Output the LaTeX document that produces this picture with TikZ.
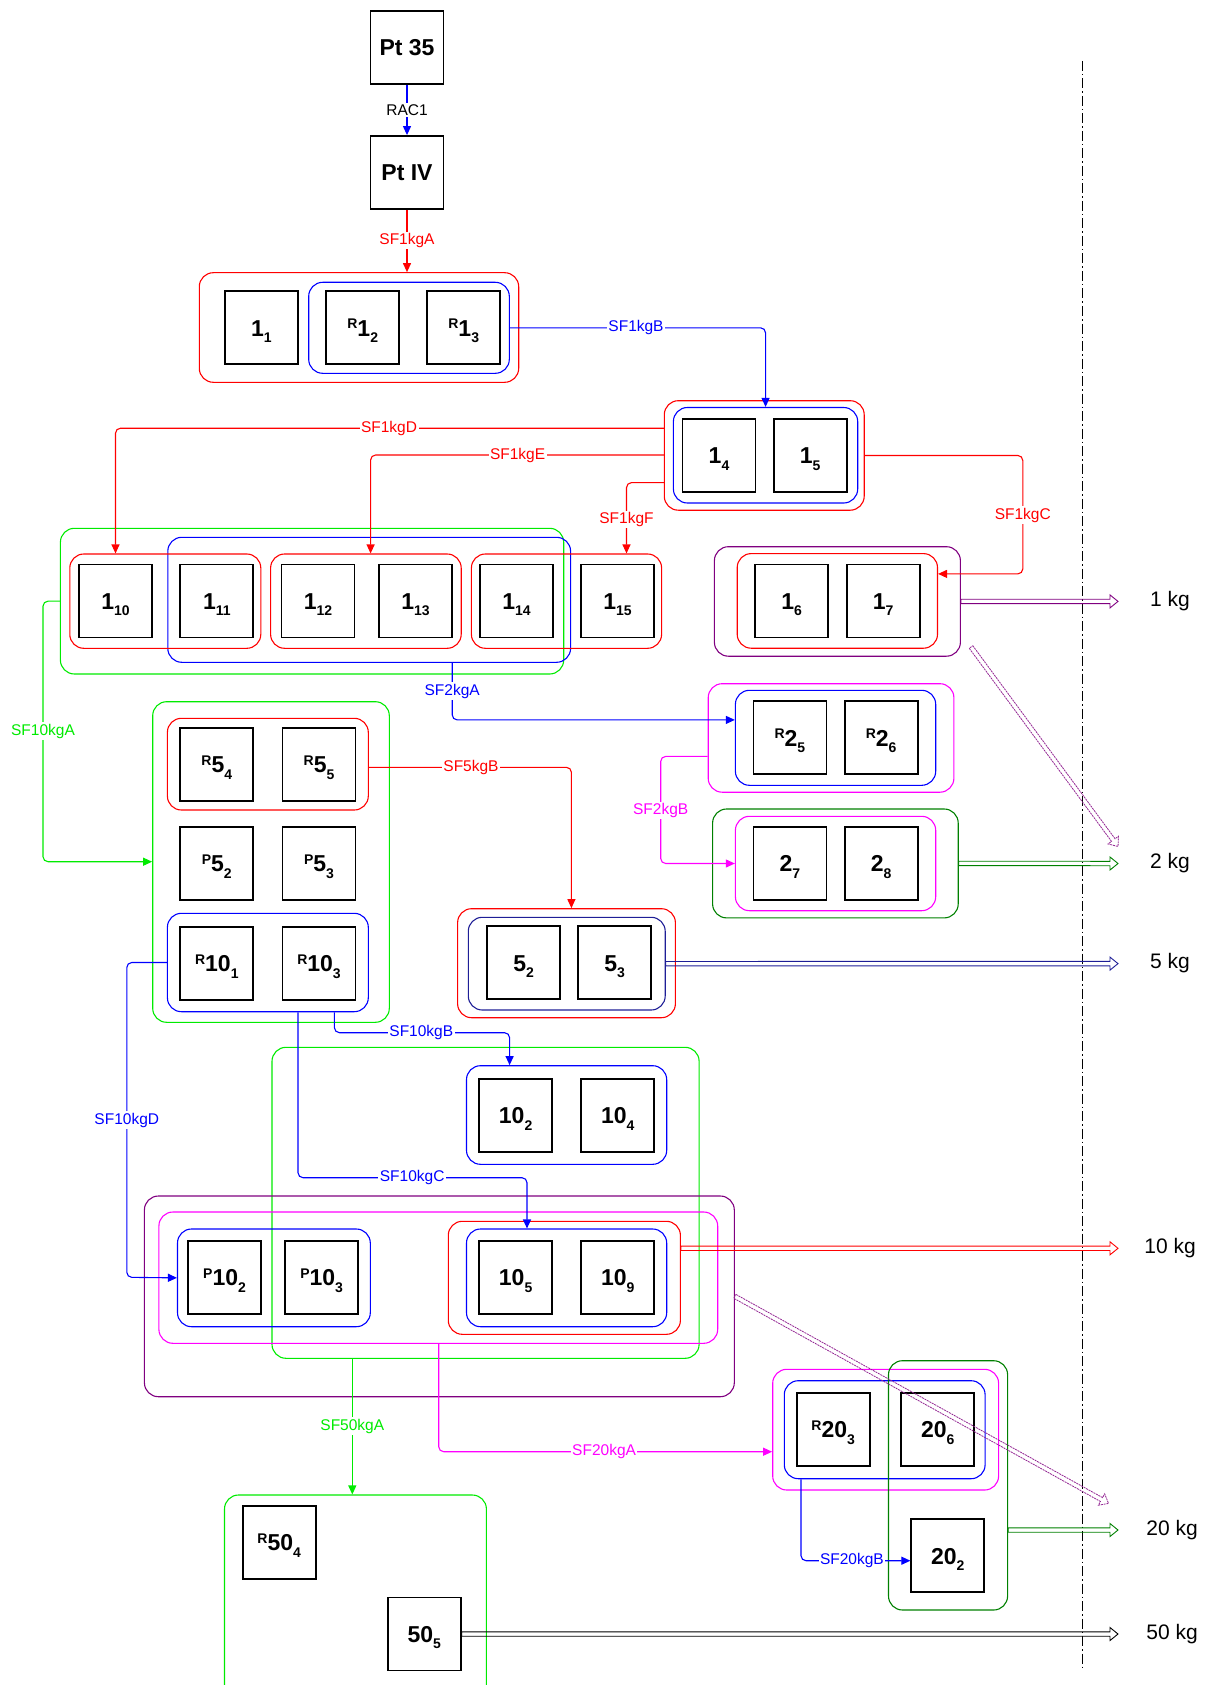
\documentclass[tikz,border=0pt]{standalone}
\usepackage{fontspec}
\setmainfont{Liberation Sans}
\usetikzlibrary{arrows.meta,calc,fit}
\definecolor{cred}{RGB}{255,0,0}
\definecolor{cblue}{RGB}{0,0,255}
\definecolor{cgreen}{RGB}{0,235,0}
\definecolor{cmag}{RGB}{255,0,255}
\definecolor{cpur}{RGB}{128,0,128}
\definecolor{cdgreen}{RGB}{0,128,0}
\definecolor{cnavy}{RGB}{30,30,150}
\newcommand\bl[3]{{\fontsize{14}{14}\selectfont\raisebox{7.5pt}{#1}}{\fontsize{23}{23}\selectfont #2}{\fontsize{14}{14}\selectfont\raisebox{-6.5pt}{#3}}}
\newcommand\bx[4]{\node[sq] (#1) at (#2,#3) {}; \node[boxlbl] at ($(#1.center)+(0,8.3)$) {#4};}
\newcommand\ctn[4]{\node[ctr=#2, fit={(#3)(#4)}] (#1) {};}
\newcommand\dbl[4][]{%
 \coordinate (dbA) at ($(#4)!8pt!(#3)$);
 \draw[#2, line width=0.9pt, line join=miter, #1]
 ($(#3)!2.2pt!90:(#4)$) --
 ($(dbA)!2.2pt!-90:(#3)$) --
 ($(dbA)!6.5pt!-90:(#3)$) --
 (#4) --
 ($(dbA)!6.5pt!90:(#3)$) --
 ($(dbA)!2.2pt!90:(#3)$) --
 ($(#3)!2.2pt!-90:(#4)$) -- cycle;}
\tikzset{
 sq/.style={draw=black, line width=1.8pt, minimum width=73pt, minimum height=73pt, inner sep=0pt},
 boxlbl/.style={anchor=base, inner sep=0pt, font=\bfseries},
 ctr/.style={draw=#1, line width=1.1pt, rounded corners=14pt, inner sep=0pt},
 lab/.style={fill=white, inner sep=1.5pt, font=\fontsize{15.5}{15.5}\selectfont},
 conn/.style={draw=#1, line width=1.1pt, rounded corners=5pt, -{Triangle[length=9pt,width=8pt]}},
 kg/.style={font=\fontsize{21}{21}\selectfont, inner sep=0pt},
 diag/.style={line width=0.8pt, dash pattern=on 2pt off 0.8pt, draw=cpur!85}
}
\begin{document}
\begin{tikzpicture}[x=1pt,y=-1pt]
\useasboundingbox (0,0) rectangle (1209,1685);
\clip (0,0) rectangle (1209,1685);
% dash-dot line
\coordinate (dtop) at (1082,61);
\coordinate (dbot) at (1082,1668);
\draw[line width=0.9pt, dash pattern=on 10pt off 3pt on 1.5pt off 3pt] (dtop) -- (dbot);
% boxes
\bx{pt35}{407}{47.5}{\fontsize{23}{23}\selectfont Pt 35}
\bx{ptiv}{407}{172.5}{\fontsize{23}{23}\selectfont Pt IV}
\bx{n11}{261.3}{327.7}{\bl{}{1}{1}}
\bx{n12}{362.7}{327.7}{\bl{R}{1}{2}}
\bx{n13}{463.7}{327.7}{\bl{R}{1}{3}}
\bx{n14}{719}{455.2}{\bl{}{1}{4}}
\bx{n15}{810.2}{455.2}{\bl{}{1}{5}}
\bx{n110}{115.5}{601}{\bl{}{1}{10}}
\bx{n111}{216.8}{601}{\bl{}{1}{11}}
\bx{n112}{318}{601}{\bl{}{1}{12}}
\bx{n113}{415.5}{601}{\bl{}{1}{13}}
\bx{n114}{516.5}{601}{\bl{}{1}{14}}
\bx{n115}{617.5}{601}{\bl{}{1}{15}}
\bx{n16}{791.7}{601}{\bl{}{1}{6}}
\bx{n17}{883.2}{601}{\bl{}{1}{7}}
\bx{n25}{789.9}{737.8}{\bl{R}{2}{5}}
\bx{n26}{881.1}{737.8}{\bl{R}{2}{6}}
\bx{n27}{789.9}{863.5}{\bl{}{2}{7}}
\bx{n28}{881.1}{863.5}{\bl{}{2}{8}}
\bx{n54}{216.8}{764.2}{\bl{R}{5}{4}}
\bx{n55}{319}{764.2}{\bl{R}{5}{5}}
\bx{p52}{216.8}{863.5}{\bl{P}{5}{2}}
\bx{p53}{319}{863.5}{\bl{P}{5}{3}}
\bx{r101}{216.8}{963.2}{\bl{R}{10}{1}}
\bx{r103}{319}{963.2}{\bl{R}{10}{3}}
\bx{n52}{523.7}{962.7}{\bl{}{5}{2}}
\bx{n53}{614.7}{962.7}{\bl{}{5}{3}}
\bx{n102}{515.6}{1115.2}{\bl{}{10}{2}}
\bx{n104}{617.8}{1115.2}{\bl{}{10}{4}}
\bx{p102}{224.6}{1277.5}{\bl{P}{10}{2}}
\bx{p103}{321.6}{1277.5}{\bl{P}{10}{3}}
\bx{n105}{515.6}{1277.5}{\bl{}{10}{5}}
\bx{n109}{617.8}{1277.5}{\bl{}{10}{9}}
\bx{r203}{833.2}{1429.3}{\bl{R}{20}{3}}
\bx{n206}{937.8}{1429.3}{\bl{}{20}{6}}
\bx{n202}{947.8}{1555.7}{\bl{}{20}{2}}
\bx{r504}{279.2}{1542.5}{\bl{R}{50}{4}}
\bx{n505}{424.3}{1634}{\bl{}{50}{5}}
% containers
\ctn{redA}{cred}{199.3,272.7}{518.7,382.3}
\ctn{blueA}{cblue}{308.7,282.3}{509.3,373.3}
\ctn{redB}{cred}{664.3,400.7}{864.2,510.2}
\ctn{blueB}{cblue}{673.4,407.5}{857.7,503}
\ctn{greenC}{cgreen}{60.4,528.3}{563.7,674}
\ctn{blueC}{cblue}{167.8,537.3}{570.6,662.3}
\ctn{redC1}{cred}{69.8,554}{260.8,648.3}
\ctn{redC2}{cred}{270.6,554}{461.2,648.3}
\ctn{redC3}{cred}{471.4,554}{661.6,648.3}
\ctn{purD}{cpur}{714.4,546.7}{960.4,656.2}
\ctn{redD}{cred}{737.2,553.6}{937.5,648.2}
\ctn{magE}{cmag}{708.2,683.7}{953.9,792.2}
\ctn{blueE}{cblue}{735.4,690.3}{935.7,785.3}
\ctn{dgF}{cdgreen}{712.6,809}{958.2,917.9}
\ctn{magF}{cmag}{735.4,816.3}{935.7,910.7}
\ctn{greenG}{cgreen}{152.7,701.7}{389.3,1022.3}
\ctn{redG1}{cred}{167.4,718.3}{368.3,810}
\ctn{blueG2}{cblue}{167.4,913.3}{368.3,1011.7}
\ctn{redH}{cred}{457.6,908.7}{675.4,1017.7}
\ctn{navyH}{cnavy}{468.3,917.3}{665.2,1010}
\ctn{blueI}{cblue}{466.5,1065.7}{666.7,1164.3}
\ctn{greenJ}{cgreen}{272,1047.3}{699.1,1358.3}
\ctn{purK}{cpur}{144.4,1196}{734.3,1396.7}
\ctn{magK}{cmag}{158.9,1212}{717.7,1343.3}
\ctn{blueK1}{cblue}{177.5,1229}{370.3,1326.7}
\ctn{redK2}{cred}{448.3,1221.3}{680.4,1334.3}
\ctn{blueK2}{cblue}{466.5,1229}{666.7,1326.7}
\ctn{magL}{cmag}{772.7,1369.3}{998.6,1490}
\ctn{blueL}{cblue}{784.3,1380.7}{985.1,1478.7}
\ctn{dgM}{cdgreen}{888.5,1360.7}{1007.6,1610}
\ctn{greenN}{cgreen}{224.5,1495}{486.4,1720}
% connectors
\draw[conn=cblue] (pt35.south) -- (ptiv.north);
\node[lab] at (407,110) {RAC1};
\draw[conn=cred] (ptiv.south) -- (ptiv.south |- redA.north);
\node[lab,text=cred] at (407,240.5) {SF1kgA};
\draw[conn=cblue] (blueA.east) -| (blueB.north);
\node[lab,text=cblue] at (636,327.7) {SF1kgB};
\draw[conn=cred] (redB.west |- 0,428.2) -| (n110.center |- redC1.north);
\node[lab,text=cred] at (389,428.2) {SF1kgD};
\draw[conn=cred] (redB.west |- 0,455) -| (redC2.north -| 370.6,0);
\node[lab,text=cred] at (517.6,455) {SF1kgE};
\draw[conn=cred] (redB.west |- 0,482.6) -| (redC3.north -| 626.5,0);
\node[lab,text=cred] at (626.5,519.3) {SF1kgF};
\coordinate (cC) at (1022.8,573.9);
\draw[conn=cred] (redB.east) -| (cC) -- (redD.east |- cC);
\node[lab,text=cred] at (1022.8,515) {SF1kgC};
\draw[conn=cblue] (blueC.south -| 452.2,0) |- (blueE.west |- 0,719.9);
\node[lab,text=cblue] at (452.2,691) {SF2kgA};
\draw[conn=cmag] (magE.west |- 0,756.4) -| (660.7,863.5) -- (magF.west);
\node[lab,text=cmag] at (660.7,810.4) {SF2kgB};
\draw[conn=cgreen] (greenC.west) -| (43,861.7) -- (greenG.west |- 0,861.7);
\node[lab,text=cgreen] at (43,731) {SF10kgA};
\draw[conn=cred] (redG1.east |- 0,767.3) -| (redH.north -| 571.4,0);
\node[lab,text=cred] at (471,767.3) {SF5kgB};
\draw[conn=cblue] (blueG2.west) -| (126.8,1277.3) -- (blueK1.west);
\node[lab,text=cblue] at (126.8,1120) {SF10kgD};
\draw[conn=cblue] (blueG2.south -| 334.4,0) |- (509.6,1032.7) -- (blueI.north -| 509.6,0);
\node[lab,text=cblue] at (421.3,1032.7) {SF10kgB};
\draw[conn=cblue] (blueG2.south -| 298,0) |- (527,1177.7) -- (blueK2.north -| 527,0);
\node[lab,text=cblue] at (412.2,1177.7) {SF10kgC};
\draw[conn=cgreen] (greenJ.south -| 352.3,0) -- (greenN.north -| 352.3,0);
\node[lab,text=cgreen] at (352.3,1426) {SF50kgA};
\draw[conn=cmag] (magK.south -| 438.7,0) |- (magL.west |- 0,1451.7);
\node[lab,text=cmag] at (604.1,1451.7) {SF20kgA};
\draw[conn=cblue] (blueL.south -| 801,0) |- (n202.west |- 0,1560.7);
\node[lab,text=cblue] at (851.9,1560.7) {SF20kgB};
% outputs
\coordinate (t1) at (1118,601.4);
\coordinate (t2) at (1118,863.5);
\coordinate (t5) at (1118,963.6);
\coordinate (t10) at (1118,1248.3);
\coordinate (t20) at (1118,1530);
\coordinate (t50) at (1118,1634);
\coordinate (d1s) at (971,647);
\coordinate (d1e) at (1118,846.5);
\coordinate (d2e) at (1108.5,1503.4);
\dbl{cpur}{purD.east}{t1}
\dbl{cdgreen}{dgF.east}{t2}
\dbl{cnavy}{navyH.east}{t5}
\dbl{cred}{redK2.east |- t10}{t10}
\dbl{cdgreen}{dgM.east |- t20}{t20}
\dbl{black}{n505.east}{t50}
\dbl[diag]{cpur}{d1s}{d1e}
\dbl[diag]{cpur}{purK.east}{d2e}
\node[kg] (k1) at (1170,601) {1 kg};
\node[kg] (k2) at (1170,863.5) {2 kg};
\node[kg] (k5) at (1170,963.5) {5 kg};
\node[kg] (k10) at (1170,1248.3) {10 kg};
\node[kg] (k20) at (1172,1530) {20 kg};
\node[kg] (k50) at (1172,1634) {50 kg};
\end{tikzpicture}
\end{document}
